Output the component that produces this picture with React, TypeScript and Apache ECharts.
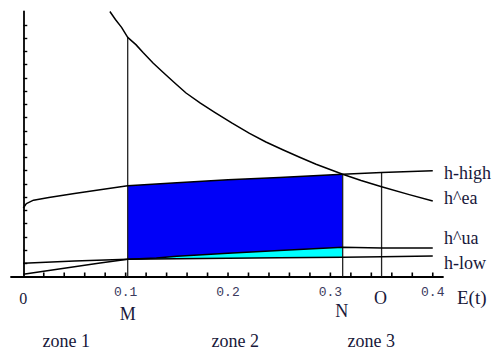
import { useEffect, useRef } from "react";
import * as echarts from "echarts";

// Curves as [E(t), h] pairs
const hHigh: [number, number][] = [
  [0, 5.17], [0.003, 5.5], [0.01, 5.76], [0.025, 5.96], [0.05, 6.27],
  [0.075, 6.55], [0.102, 6.85], [0.15, 7.08], [0.2, 7.3], [0.25, 7.48],
  [0.312, 7.72], [0.35, 7.84], [0.4, 7.98],
];
const hEa: [number, number][] = [
  [0.0846, 20.0], [0.09, 19.4], [0.096, 18.8], [0.102, 18.05], [0.11, 17.5],
  [0.117, 16.9], [0.127, 16.1], [0.137, 15.38], [0.148, 14.6], [0.159, 13.85],
  [0.173, 13.08], [0.187, 12.38], [0.204, 11.57], [0.221, 10.8], [0.237, 10.15],
  [0.254, 9.55], [0.27, 9.0], [0.286, 8.47], [0.312, 7.72], [0.33, 7.25],
  [0.35, 6.78], [0.377, 6.18], [0.4, 5.7],
];
const hUa: [number, number][] = [
  [0, 0.17], [0.02, 0.39], [0.05, 0.73], [0.075, 1.02], [0.102, 1.31],
  [0.13, 1.4], [0.15, 1.52], [0.2, 1.75], [0.25, 1.96], [0.312, 2.2],
  [0.35, 2.16], [0.4, 2.16],
];
const hLow: [number, number][] = [
  [0, 1.0], [0.05, 1.17], [0.102, 1.3], [0.15, 1.34], [0.2, 1.37],
  [0.25, 1.41], [0.312, 1.45], [0.35, 1.49], [0.4, 1.55],
];

// Marked abscissas
const M_X = 0.102;
const N_X = 0.312;
const O_X = 0.35;

const xTicks = [0.02, 0.04, 0.06, 0.08, 0.1, 0.12, 0.14, 0.16, 0.18, 0.2,
  0.22, 0.24, 0.26, 0.28, 0.3, 0.32, 0.34, 0.36, 0.38, 0.4];
const xTickLabels = [0.1, 0.2, 0.3, 0.4];
const yTicks = [1, 2, 3, 4, 5, 6, 7, 8, 9, 10, 11, 12, 13, 14, 15, 16, 17, 18, 19];

const curveNames = ["h-high", "h^ea", "h^ua", "h-low"];
const zoneNames = ["zone 1", "zone 2", "zone 3"];

// Layout
const zoneCenters = [0.042, 0.207, 0.34];
const curveLabelDy = [2, -2.5, -10, 7];
const SERIF = "'Liberation Serif', 'Times New Roman', serif";
const MONO = "'Liberation Mono', 'DejaVu Sans Mono', monospace";
const TEXT = "#18183a";

function band(upper: [number, number][], lower: [number, number][], x0: number, x1: number) {
  const inRange = (p: [number, number]) => p[0] >= x0 - 1e-9 && p[0] <= x1 + 1e-9;
  return [...upper.filter(inRange), ...lower.filter(inRange).reverse()];
}

function valueAt(curve: [number, number][], x: number) {
  const p = curve.find((q) => Math.abs(q[0] - x) < 1e-9);
  return p ? p[1] : 0;
}

export default function App() {
  const ref = useRef<HTMLDivElement>(null);

  useEffect(() => {
    if (!ref.current) return;
    const chart = echarts.init(ref.current, null, { renderer: "svg" });

    const blue = band(hHigh, hLow, M_X, N_X);
    const cyan = band(hUa, hLow, M_X, N_X);

    const region = (poly: [number, number][], fill: string, z: number) => ({
      type: "custom",
      coordinateSystem: "cartesian2d",
      silent: true,
      z,
      data: [[M_X, 0]],
      renderItem: (_p: any, api: any) => ({
        type: "polygon",
        shape: { points: poly.map((pt) => api.coord(pt)) },
        style: { fill, stroke: "none" },
      }),
    });

    const curve = (name: string, data: [number, number][]) => ({
      name,
      type: "line",
      data,
      showSymbol: false,
      silent: true,
      z: 5,
      lineStyle: { color: "#000", width: 1.5, join: "round" },
    });

    const vline = (x: number, top: number) => ({
      type: "line",
      data: [[x, 0], [x, top]],
      showSymbol: false,
      silent: true,
      z: 4,
      lineStyle: { color: "#222", width: 1.3 },
    });

    chart.setOption({
      animation: false,
      grid: { left: 11, right: 61, top: 11.5, bottom: 77.5, containLabel: false, outerBoundsMode: "none" },
      xAxis: {
        type: "value",
        min: -0.012,
        max: 0.41,
        splitLine: { show: false },
        axisLine: { onZero: true, lineStyle: { color: "#000", width: 1.8 } },
        axisTick: { show: false },
        axisLabel: {
          customValues: xTickLabels,
          formatter: (v: number) => v.toFixed(1),
          fontFamily: MONO,
          fontSize: 13,
          color: "#3a3a5c",
          margin: 9,
        },
      },
      yAxis: {
        type: "value",
        min: 0,
        max: 20,
        splitLine: { show: false },
        axisLine: { onZero: true, lineStyle: { color: "#000", width: 1.8 } },
        axisTick: { show: true, inside: true, length: 4, customValues: yTicks, lineStyle: { color: "#000", width: 1.4 } },
        axisLabel: { show: false },
      },
      series: [
        region(blue, "#0000f8", 1),
        region(cyan, "#00ffff", 2),
        vline(M_X, valueAt(hEa, M_X)),
        vline(N_X, valueAt(hHigh, N_X)),
        vline(O_X, valueAt(hHigh, O_X)),
        curve(curveNames[0], hHigh),
        curve(curveNames[1], hEa),
        curve(curveNames[2], hUa),
        curve(curveNames[3], hLow),
      ],
    });

    const px = (x: number, y: number) => chart.convertToPixel({ gridIndex: 0 }, [x, y]) as number[];
    const axisY = px(0, 0)[1];
    const axisEndX = px(0.41, 0)[0];

    const text = (s: string, x: number, y: number, align: string, size = 18, family = SERIF) => ({
      type: "text",
      x,
      y,
      silent: true,
      style: { text: s, fill: TEXT, font: `${size}px ${family}`, align, verticalAlign: "middle" },
    });

    const graphics: any[] = [];
    // small upward tick marks on the E(t) axis
    xTicks.forEach((v) => {
      const tx = px(v, 0)[0];
      graphics.push({
        type: "line",
        silent: true,
        z: 10,
        shape: { x1: tx, y1: axisY, x2: tx, y2: axisY - 4 },
        style: { stroke: "#000", lineWidth: 1.6 },
      });
    });

    const curves = [hHigh, hEa, hUa, hLow];
    curves.forEach((c, i) => {
      const last = c[c.length - 1];
      graphics.push(text(curveNames[i], axisEndX + 1, px(last[0], last[1])[1] + curveLabelDy[i], "left"));
    });
    graphics.push(text("0", px(0, 0)[0], axisY + 22, "center", 16));
    graphics.push(text("O", px(O_X, 0)[0] - 1, axisY + 21, "center"));
    graphics.push(text("E(t)", axisEndX + 14, axisY + 21, "left", 19));
    graphics.push(text("M", px(M_X, 0)[0], axisY + 37, "center"));
    graphics.push(text("N", px(N_X, 0)[0] - 1, axisY + 34, "center"));
    zoneNames.forEach((z, i) => {
      graphics.push(text(z, px(zoneCenters[i], 0)[0], axisY + 64, "center", 18));
    });
    chart.setOption({ graphic: graphics });

    return () => chart.dispose();
  }, []);

  return (
    <div
      ref={ref}
      style={{ position: "fixed", left: 0, top: 0, width: 504, height: 354, background: "#fff" }}
    />
  );
}
